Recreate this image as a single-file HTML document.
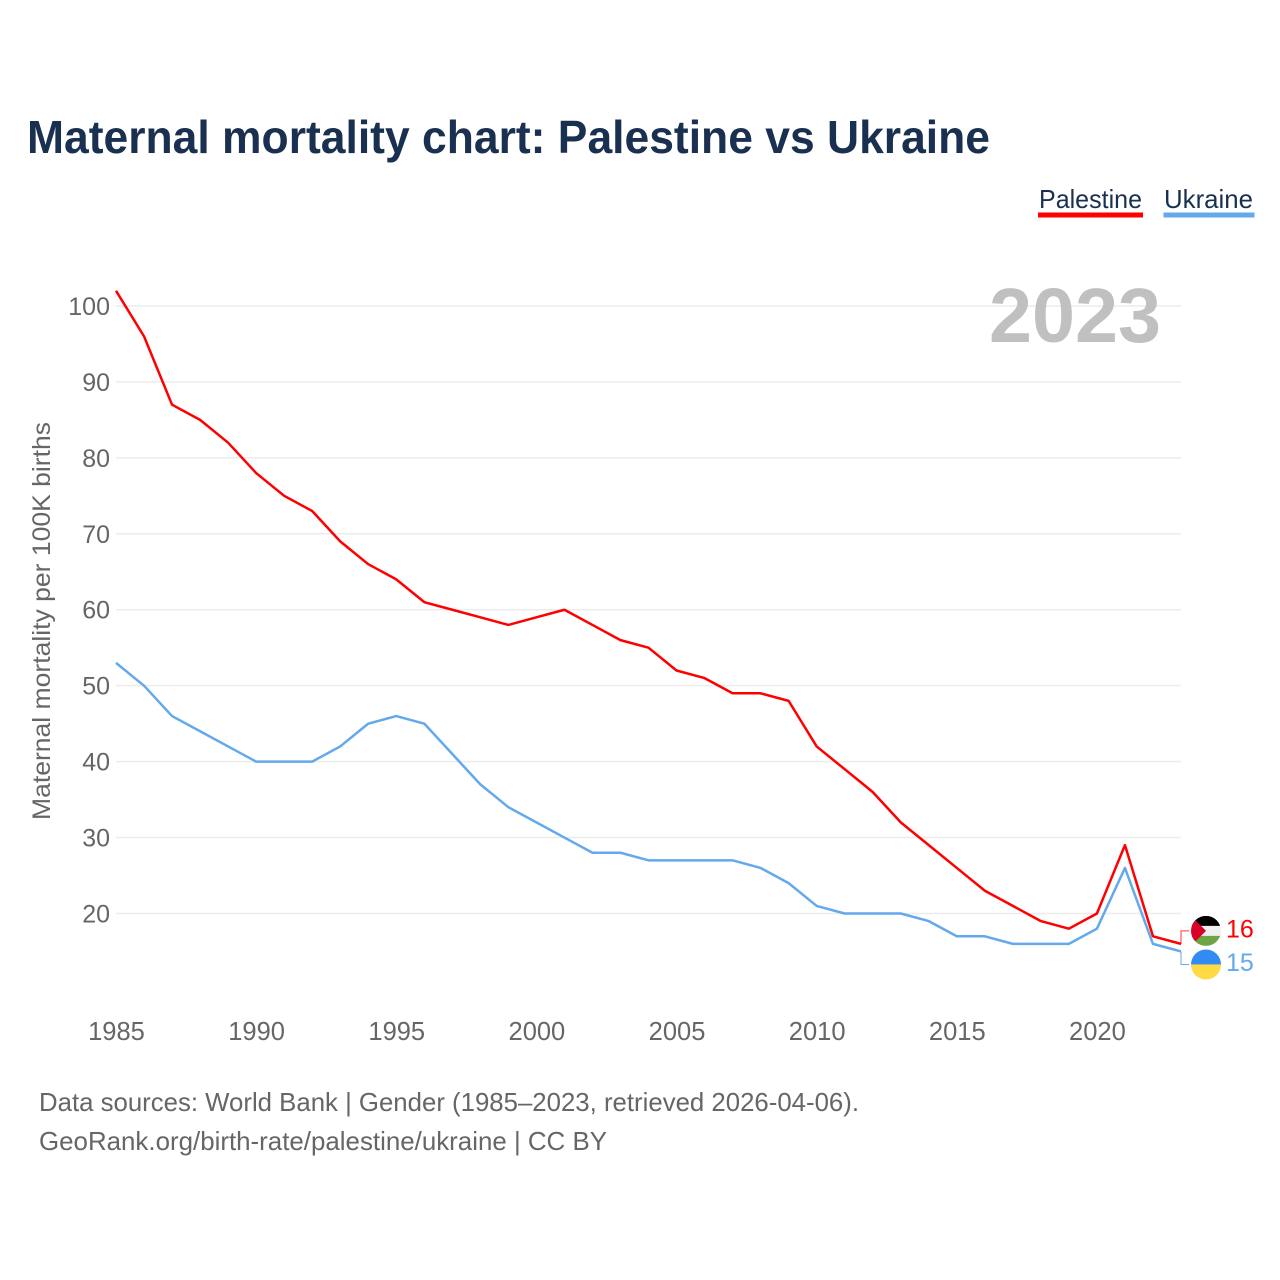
<!DOCTYPE html>
<html lang="en">
<head>
<meta charset="utf-8">
<title>Maternal mortality chart: Palestine vs Ukraine</title>
<style>
  html, body { margin: 0; padding: 0; background: #ffffff; }
  svg { display: block; font-family: "Liberation Sans", sans-serif; }
</style>
</head>
<body>
<svg id="chart" xmlns="http://www.w3.org/2000/svg" width="1280" height="1280" viewBox="0 0 1280 1280">
  <defs>
    <clipPath id="flag-clip-circle">
      <circle cx="0" cy="0" r="15"></circle>
    </clipPath>
  </defs>
  <rect x="0" y="0" width="1280" height="1280" fill="#ffffff"></rect>
  <text x="27" y="153" font-size="46" font-weight="700" fill="#1a3050" textLength="963" lengthAdjust="spacingAndGlyphs">Maternal mortality chart: Palestine vs Ukraine</text>

  <g>
    <g>
      <text x="1039" y="208" font-size="26" fill="#1a3050" textLength="103" lengthAdjust="spacingAndGlyphs">Palestine</text>
      <rect x="1038" y="212.500" width="105" height="5" fill="#ff0000"></rect>
    </g>
    <g>
      <text x="1164" y="208" font-size="26" fill="#1a3050" textLength="89" lengthAdjust="spacingAndGlyphs">Ukraine</text>
      <rect x="1163.500" y="212.500" width="91" height="5" fill="#63a9ec"></rect>
    </g>
  </g>

  <g id="grid"></g>
  <g id="y-axis"></g>
  <g id="x-axis"></g>

  <text x="989" y="342" font-size="77" font-weight="700" fill="#c0c0c0" textLength="172" lengthAdjust="spacingAndGlyphs">2023</text>

  <text transform="translate(50 820) rotate(-90)" x="0" y="0" font-size="25" fill="#666666" textLength="398" lengthAdjust="spacingAndGlyphs">Maternal mortality per 100K births</text>

  <g id="series"></g>
  <g id="end-labels"></g>

  <text x="39" y="1111" font-size="26" fill="#666666" textLength="820" lengthAdjust="spacingAndGlyphs">Data sources: World Bank | Gender (1985–2023, retrieved 2026-04-06).</text>
  <text x="39" y="1150" font-size="26" fill="#666666" textLength="568" lengthAdjust="spacingAndGlyphs">GeoRank.org/birth-rate/palestine/ukraine | CC BY</text>
</svg>

<script>
const years = [1985,1986,1987,1988,1989,1990,1991,1992,1993,1994,1995,1996,1997,1998,1999,2000,2001,2002,2003,2004,2005,2006,2007,2008,2009,2010,2011,2012,2013,2014,2015,2016,2017,2018,2019,2020,2021,2022,2023];
const palestineValues = [102,96,87,85,82,78,75,73,69,66,64,61,60,59,58,59,60,58,56,55,52,51,49,49,48,42,39,36,32,29,26,23,21,19,18,20,29,17,16];
const ukraineValues = [53,50,46,44,42,40,40,40,42,45,46,45,41,37,34,32,30,28,28,27,27,27,27,26,24,21,20,20,20,19,17,17,16,16,16,18,26,16,15];
const yTickValues = [20,30,40,50,60,70,80,90,100];
const xTickValues = [1985,1990,1995,2000,2005,2010,2015,2020];

const NS = 'http://www.w3.org/2000/svg';
const PLOT_LEFT = 116;
const PLOT_RIGHT = 1181;
const RED = '#ff0000';
const BLUE = '#63a9ec';

function xScale(year) {
  return PLOT_LEFT + (year - 1985) * (PLOT_RIGHT - PLOT_LEFT) / (2023 - 1985);
}
function yScale(value) {
  return 913.5 - (value - 20) * 7.594;
}
function make(parent, tag, attrs, text) {
  const el = document.createElementNS(NS, tag);
  for (const k in attrs) el.setAttribute(k, attrs[k]);
  if (text !== undefined) el.textContent = text;
  parent.appendChild(el);
  return el;
}

const gridGroup = document.getElementById('grid');
const yAxisGroup = document.getElementById('y-axis');
const xAxisGroup = document.getElementById('x-axis');
const seriesGroup = document.getElementById('series');
const endGroup = document.getElementById('end-labels');

yTickValues.forEach(function (v) {
  const line = make(gridGroup, 'line', { x1: PLOT_LEFT, x2: PLOT_RIGHT, y1: yScale(v), y2: yScale(v), stroke: '#ececec', 'stroke-width': 1.5 });
  
  
  const label = make(yAxisGroup, 'text', { x: 110, y: yScale(v) + 9, 'text-anchor': 'end', 'font-size': 25, fill: '#666666' }, String(v));
  
  
});

xTickValues.forEach(function (yr) {
  const label = make(xAxisGroup, 'text', { x: xScale(yr) + 0.5, y: 1040, 'text-anchor': 'middle', 'font-size': 25.5, fill: '#666666' }, String(yr));
  
  
});

function drawLine(values, color) {
  const pts = values.map(function (v, i) { return xScale(years[i]).toFixed(2) + ',' + yScale(v).toFixed(2); }).join(' ');
  return make(seriesGroup, 'polyline', { points: pts, fill: 'none', stroke: color, 'stroke-width': 2.5, 'stroke-linejoin': 'round' });
}
const ukraineLine = drawLine(ukraineValues, BLUE);


const palestineLine = drawLine(palestineValues, RED);



const palLast = palestineValues[palestineValues.length - 1];
const ukrLast = ukraineValues[ukraineValues.length - 1];
const palEndY = yScale(palLast);
const ukrEndY = yScale(ukrLast);
const palLabelY = palEndY - 13;
const ukrLabelY = ukrEndY + 13;
const flagX = 1206;

const palConnector = make(endGroup, 'polyline', { points: PLOT_RIGHT + ',' + palEndY + ' ' + PLOT_RIGHT + ',' + palLabelY + ' 1189,' + palLabelY, fill: 'none', stroke: RED, 'stroke-width': 1, opacity: 0.8 });


const ukrConnector = make(endGroup, 'polyline', { points: PLOT_RIGHT + ',' + ukrEndY + ' ' + PLOT_RIGHT + ',' + ukrLabelY + ' 1189,' + ukrLabelY, fill: 'none', stroke: BLUE, 'stroke-width': 1 });



const palFlag = make(endGroup, 'g', { transform: 'translate(' + flagX + ' ' + palLabelY + ')' });


const palClip = make(palFlag, 'g', { 'clip-path': 'url(#flag-clip-circle)' });
make(palClip, 'rect', { x: -15, y: -15, width: 30, height: 30, fill: '#f0f0f0' });
make(palClip, 'rect', { x: -15, y: -15, width: 30, height: 10, fill: '#000000' });
make(palClip, 'rect', { x: -15, y: 5, width: 30, height: 10, fill: '#6da544' });
make(palClip, 'polygon', { points: '-16,-10 -10,-10 0,0 -10,10 -16,10', fill: '#d80027' });

const ukrFlag = make(endGroup, 'g', { transform: 'translate(' + flagX + ' ' + ukrLabelY + ')' });


const ukrClip = make(ukrFlag, 'g', { 'clip-path': 'url(#flag-clip-circle)' });
make(ukrClip, 'rect', { x: -15, y: -15, width: 30, height: 15, fill: '#338af3' });
make(ukrClip, 'rect', { x: -15, y: 0, width: 30, height: 15, fill: '#ffda44' });

const palLabel = make(endGroup, 'text', { x: 1226, y: palLabelY + 6.5, 'font-size': 25, fill: RED }, String(palLast));


const ukrLabel = make(endGroup, 'text', { x: 1226, y: ukrLabelY + 6.5, 'font-size': 25, fill: BLUE }, String(ukrLast));


</script>
</body>
</html>
